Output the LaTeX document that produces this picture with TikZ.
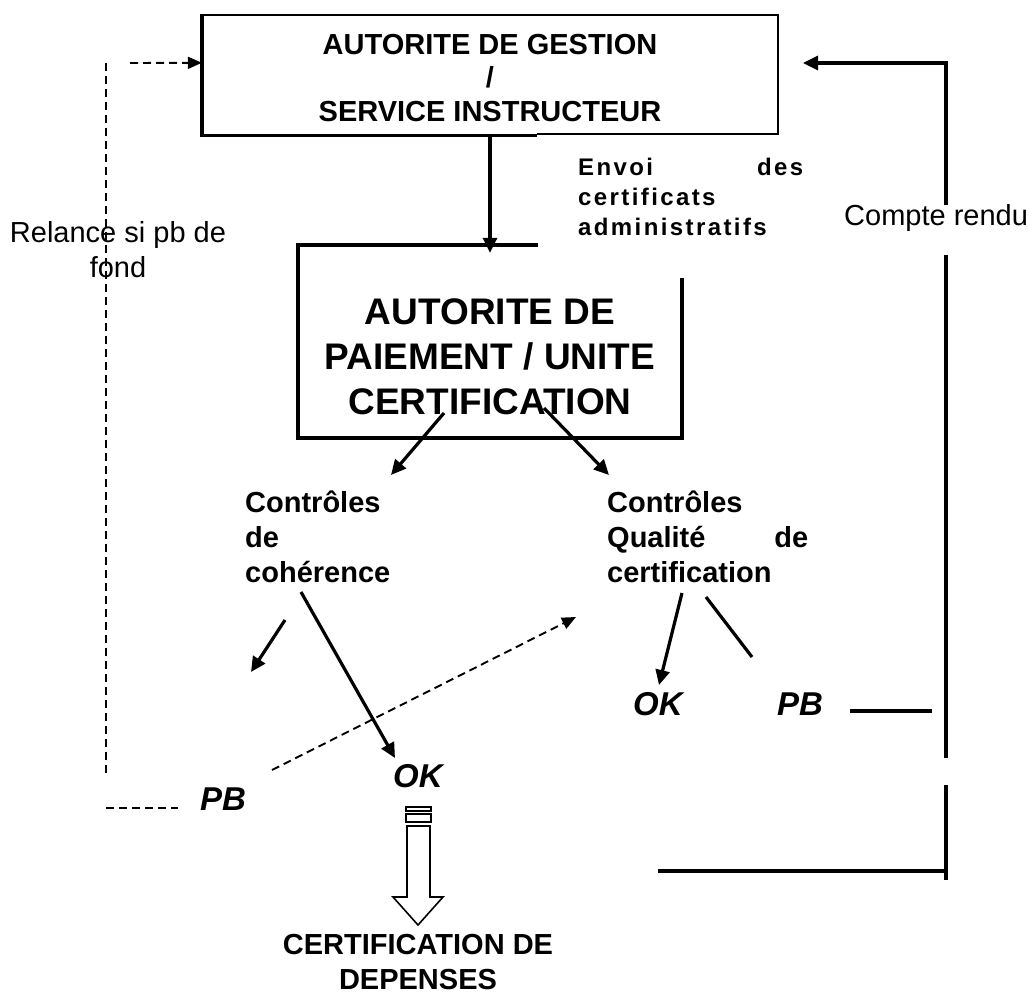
\documentclass[tikz,border=0pt]{standalone}
\usepackage{fontspec}
\setmainfont{Liberation Sans}
\newfontfamily\spacedfont[LetterSpace=10]{Liberation Sans}
\usetikzlibrary{calc,arrows.meta}

\begin{document}
\begin{tikzpicture}[x=1pt,y=-1pt,
  link/.style={line width=3.2pt},
  arr/.style={link,-{Triangle[length=15pt,width=14pt]}},
  dashline/.style={line width=1.9pt,dash pattern=on 8pt off 5pt},
  darr/.style={dashline,-{Triangle[length=14pt,width=12pt]}},
  boxtitle/.style={inner sep=0pt,align=center,font=\bfseries\fontsize{29}{33.5}\selectfont},
  lbl/.style={inner sep=0pt,align=left,font=\bfseries\fontsize{29}{35}\selectfont},
  note/.style={inner sep=0pt,align=center,font=\fontsize{29}{35}\selectfont},
  res/.style={inner sep=0pt,font=\bfseries\itshape\fontsize{33}{33}\selectfont}]
\useasboundingbox (0,0) rectangle (1034,998);

% the two boxes
\node[inner sep=0pt,minimum width=576pt,minimum height=119pt] (gestion) at (490,74.5) {};
\node[inner sep=0pt,minimum width=384pt,minimum height=193pt] (paiement) at (490,341.5) {};
\draw[line width=2.4pt] (537,134) -- (778,134) -- (778,15) -- (202,15);
\draw[line width=3.4pt] (202,14) -- (202,135.5) -- (537,135.5);
\draw[line width=3.4pt] (538,245) -- (298,245) -- (298,438) -- (682,438) -- (682,278);

\node[boxtitle,anchor=north] (gestiontxt) at (490,34) {AUTORITE DE GESTION\\/\\SERVICE INSTRUCTEUR};
\node[boxtitle,font=\bfseries\fontsize{37}{45}\selectfont,anchor=north] (paiementtxt) at (490,298)
  {AUTORITE DE\\PAIEMENT / UNITE\\CERTIFICATION};
\node[inner sep=0pt,align=left,text width=225pt,anchor=north west,
  font=\spacedfont\bfseries\fontsize{24}{30}\selectfont] (envoi) at (578,158)
  {Envoi\hfill des\\certificats\\administratifs};

% controls
\node[lbl,anchor=north west] (coherence) at (245,491) {Contrôles\\de\\cohérence};
\node[lbl,anchor=north west,text width=201pt] (qualite) at (607,491) {Contrôles\\Qualité\hfill de\\certification};
\node[res,anchor=base west] (okcoh) at (393,787) {OK};
\node[res,anchor=base west] (pbcoh) at (200,810) {PB};
\node[res,anchor=base west] (okqual) at (633,715) {OK};
\node[res,anchor=base west] (pbqual) at (777,715) {PB};
\node[boxtitle,font=\bfseries\fontsize{29}{35}\selectfont,anchor=north] (depenses) at (418,934) {CERTIFICATION DE\\DEPENSES};

% side labels
\node[note,anchor=north] (relance) at (118,221) {Relance si pb de\\fond};
\node[note,anchor=base west] (compte) at (844,225) {Compte rendu};

% arrows
\draw[arr] (gestion.south) -- ([yshift=-8pt]paiement.north);
\coordinate (pl) at (444,413);
\coordinate (pr) at (544,408);
\draw[arr] (pl) -- (391,475);
\draw[arr] (pr) -- (609,475);
\draw[arr] (285,620) -- (251,672);
\draw[arr] (301,592) -- (395,758);
\draw[arr] (682,593) -- (659,685);
\draw[link] (706,597) -- (752,657);
\draw[darr] (272,770) -- (576,617);

% feedback loops
\draw[dashline] (106,63) -- (106,773);
\draw[dashline] (106,808) -- (178,808);
\draw[darr] (130,63) -- ($(gestion.north west)+(0,48)$);
\draw[arr] (946,205) -- (946,63) -- (803,63);
\draw[link] (946,255) -- (946,758);
\draw[link] (946,785) -- (946,880);
\draw[link] (658,871) -- (946,871);
\draw[link] (850,711) -- (932,711);

% block arrow
\draw[line width=1.6pt] (406,807) rectangle (431,811);
\draw[line width=1.6pt] (406,814) rectangle (431,822);
\draw[line width=1.6pt] (407,826) -- (430,826) -- (430,897) -- (443,897) -- (418,925)
  -- (393,897) -- (407,897) -- cycle;
\end{tikzpicture}
\end{document}
